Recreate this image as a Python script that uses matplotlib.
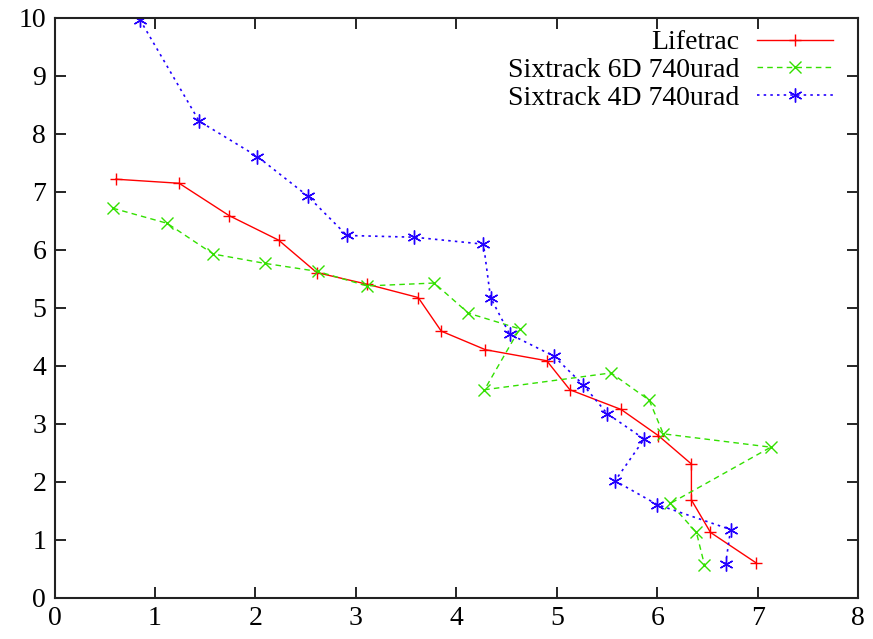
import matplotlib
matplotlib.use("Agg")
import matplotlib.pyplot as plt

# ── data ───────────────────────────────────────────────────────────────────────
lifetrac_x = [0.61, 1.24, 1.74, 2.23, 2.61, 3.11, 3.62, 3.85, 4.29, 4.90,
              5.13, 5.64, 6.01, 6.34, 6.34, 6.53, 6.98]
lifetrac_y = [7.22, 7.15, 6.59, 6.17, 5.61, 5.41, 5.18, 4.60, 4.28, 4.09,
              3.59, 3.25, 2.80, 2.31, 1.69, 1.13, 0.61]

six6d_x = [0.58, 1.12, 1.58, 2.09, 2.62, 3.11, 3.78, 4.12, 4.63, 4.28,
           5.54, 5.92, 6.06, 7.13, 6.13, 6.39, 6.47]
six6d_y = [6.72, 6.46, 5.93, 5.77, 5.63, 5.38, 5.43, 4.91, 4.64, 3.59,
           3.88, 3.41, 2.83, 2.60, 1.63, 1.13, 0.57]

six4d_x = [0.85, 1.44, 2.02, 2.52, 2.91, 3.58, 4.27, 4.34, 4.53, 4.97,
           5.26, 5.50, 5.87, 5.58, 6.00, 6.73, 6.68]
six4d_y = [9.97, 8.22, 7.61, 6.93, 6.25, 6.22, 6.10, 5.18, 4.55, 4.17,
           3.68, 3.18, 2.74, 2.02, 1.61, 1.18, 0.58]

x_ticks = [0, 1, 2, 3, 4, 5, 6, 7, 8]
y_ticks = [0, 1, 2, 3, 4, 5, 6, 7, 8, 9, 10]

plt.rcParams["font.family"] = ["Liberation Serif", "DejaVu Serif"]

fig = plt.figure(figsize=(8.73, 6.39), dpi=100)
ax = fig.add_axes([0.0625, 0.0642, 0.9205, 0.9077])

ax.plot(lifetrac_x, lifetrac_y, color="#ff0000", linestyle="-", linewidth=1.0,
        marker="+", markersize=9, markeredgewidth=1.0, label="Lifetrac")
ax.plot(six6d_x, six6d_y, color="#33e000", linestyle=(0, (4, 3)), linewidth=1.0,
        marker="x", markersize=8, markeredgewidth=1.0, label="Sixtrack 6D 740urad")
ax.plot(six4d_x, six4d_y, color="#2200ff", linestyle=(0, (1.5, 2.5)), linewidth=1.2,
        marker=(6, 2, 0), markersize=10, markeredgewidth=1.0,
        label="Sixtrack 4D 740urad")

ax.set_xlim(0, 8)
ax.set_ylim(0, 10)
ax.set_xticks(x_ticks)
ax.set_yticks(y_ticks)
ax.tick_params(direction="in", length=8, width=1.2, labelsize=20,
               top=True, right=True, pad=6)
for sp in ax.spines.values():
    sp.set_linewidth(1.5)
    sp.set_color("#222222")

ax.legend(loc="upper right", bbox_to_anchor=(0.99, 1.008), frameon=False,
          markerfirst=False, fontsize=20, handlelength=2.75, handletextpad=0.65,
          labelspacing=0.08, borderaxespad=0.2)

fig.savefig("out.png", dpi=100)
